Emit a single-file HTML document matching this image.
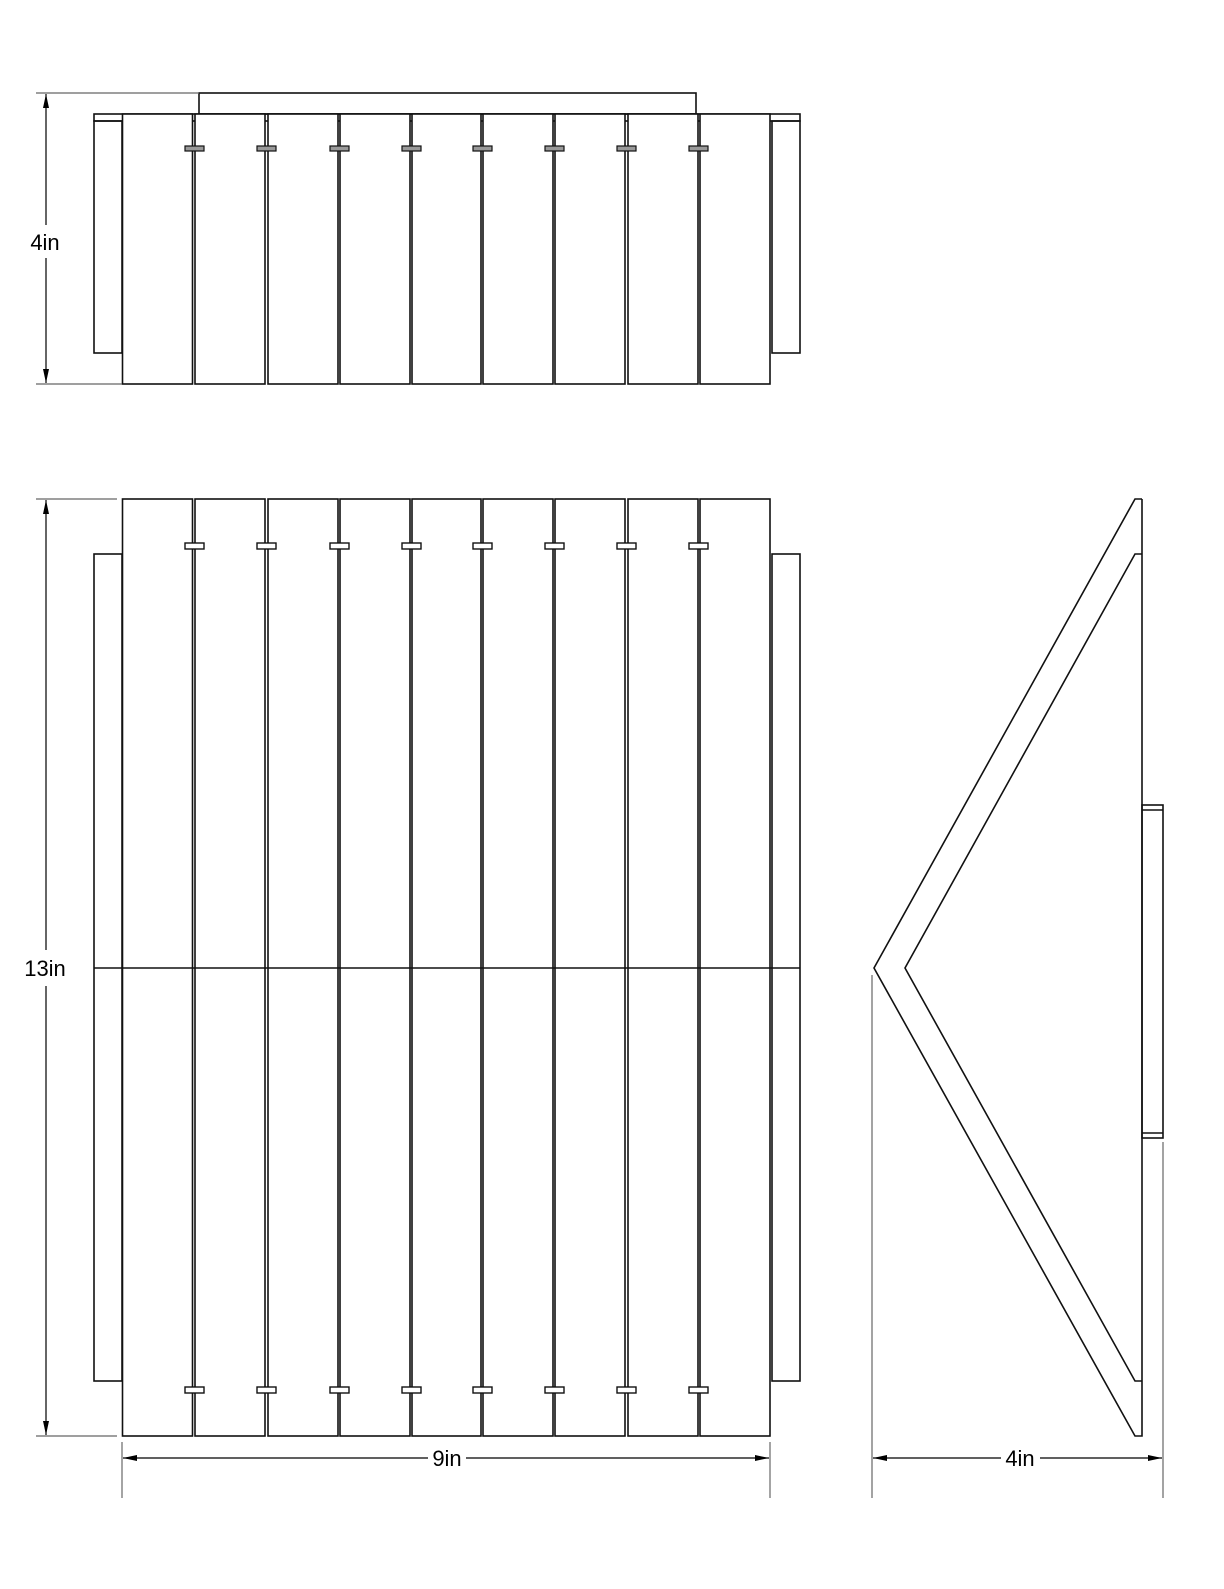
<!DOCTYPE html>
<html><head><style>html,body{margin:0;padding:0;background:#fff}</style></head>
<body>
<svg width="1224" height="1584" viewBox="0 0 1224 1584" xmlns="http://www.w3.org/2000/svg" font-family="Liberation Sans, sans-serif">
<defs>
<marker id="a" markerWidth="14" markerHeight="6" refX="14" refY="3" orient="auto" markerUnits="userSpaceOnUse"><path d="M0,0 L14,3 L0,6 z" fill="#000"/></marker>
</defs>
<g fill="none" stroke="#111" stroke-width="1.6">
<!-- TOP VIEW -->
<rect x="199" y="93" width="497" height="21"/>
<rect x="94" y="114" width="706" height="7"/>
<rect x="94" y="121" width="28" height="232"/>
<rect x="772" y="121" width="28" height="232"/>
<rect x="122.5" y="114" width="70" height="270" fill="#fff"/>
<rect x="195" y="114" width="70" height="270" fill="#fff"/>
<rect x="268" y="114" width="70" height="270" fill="#fff"/>
<rect x="340" y="114" width="70" height="270" fill="#fff"/>
<rect x="412" y="114" width="69" height="270" fill="#fff"/>
<rect x="483" y="114" width="70" height="270" fill="#fff"/>
<rect x="555" y="114" width="70" height="270" fill="#fff"/>
<rect x="628" y="114" width="70" height="270" fill="#fff"/>
<rect x="700" y="114" width="70" height="270" fill="#fff"/>
<g fill="#999" stroke-width="1.2">
<rect x="185" y="146" width="19" height="5"/><rect x="257" y="146" width="19" height="5"/><rect x="330" y="146" width="19" height="5"/><rect x="402" y="146" width="19" height="5"/><rect x="473" y="146" width="19" height="5"/><rect x="545" y="146" width="19" height="5"/><rect x="617" y="146" width="19" height="5"/><rect x="689" y="146" width="19" height="5"/>
</g>
<!-- FRONT VIEW -->
<rect x="94" y="554" width="28" height="827"/>
<rect x="772" y="554" width="28" height="827"/>
<rect x="122.5" y="499" width="70" height="937" fill="#fff"/>
<rect x="195" y="499" width="70" height="937" fill="#fff"/>
<rect x="268" y="499" width="70" height="937" fill="#fff"/>
<rect x="340" y="499" width="70" height="937" fill="#fff"/>
<rect x="412" y="499" width="69" height="937" fill="#fff"/>
<rect x="483" y="499" width="70" height="937" fill="#fff"/>
<rect x="555" y="499" width="70" height="937" fill="#fff"/>
<rect x="628" y="499" width="70" height="937" fill="#fff"/>
<rect x="700" y="499" width="70" height="937" fill="#fff"/>
<line x1="94" y1="968" x2="800" y2="968"/>
<g fill="#fff" stroke-width="1.4">
<rect x="185" y="543" width="19" height="6"/><rect x="257" y="543" width="19" height="6"/><rect x="330" y="543" width="19" height="6"/><rect x="402" y="543" width="19" height="6"/><rect x="473" y="543" width="19" height="6"/><rect x="545" y="543" width="19" height="6"/><rect x="617" y="543" width="19" height="6"/><rect x="689" y="543" width="19" height="6"/>
<rect x="185" y="1387" width="19" height="6"/><rect x="257" y="1387" width="19" height="6"/><rect x="330" y="1387" width="19" height="6"/><rect x="402" y="1387" width="19" height="6"/><rect x="473" y="1387" width="19" height="6"/><rect x="545" y="1387" width="19" height="6"/><rect x="617" y="1387" width="19" height="6"/><rect x="689" y="1387" width="19" height="6"/>
</g>
<!-- SIDE VIEW -->
<polyline points="1142,499 1135,499 874,968 1135,1436 1142,1436 1142,499"/>
<polyline points="1142,554 1135,554 905,968 1135,1381 1142,1381"/>
<rect x="1142" y="805" width="21" height="333"/>
<line x1="1142" y1="810" x2="1163" y2="810"/>
<line x1="1142" y1="1133" x2="1163" y2="1133"/>
</g>
<!-- DIMENSIONS -->
<g stroke="#666" stroke-width="1.2" fill="none">
<line x1="36" y1="93" x2="199" y2="93"/><line x1="36" y1="384" x2="122" y2="384"/>
<line x1="36" y1="499" x2="117" y2="499"/><line x1="36" y1="1436" x2="117" y2="1436"/>
<line x1="122" y1="1442" x2="122" y2="1498"/><line x1="770" y1="1442" x2="770" y2="1498"/>
<line x1="872" y1="975" x2="872" y2="1498"/><line x1="1163" y1="1142" x2="1163" y2="1498"/>
</g>
<g stroke="#000" stroke-width="1.2" fill="none">
<line x1="46" y1="225" x2="46" y2="94" marker-end="url(#a)"/>
<line x1="46" y1="258" x2="46" y2="383" marker-end="url(#a)"/>
<line x1="46" y1="950" x2="46" y2="500" marker-end="url(#a)"/>
<line x1="46" y1="986" x2="46" y2="1435" marker-end="url(#a)"/>
<line x1="428" y1="1458" x2="123" y2="1458" marker-end="url(#a)"/>
<line x1="466" y1="1458" x2="769" y2="1458" marker-end="url(#a)"/>
<line x1="1001" y1="1458" x2="873" y2="1458" marker-end="url(#a)"/>
<line x1="1040" y1="1458" x2="1162" y2="1458" marker-end="url(#a)"/>
</g>
<g font-size="22" fill="#000" text-anchor="middle">
<text x="45" y="250">4in</text>
<text x="45" y="976">13in</text>
<text x="447" y="1466">9in</text>
<text x="1020" y="1466">4in</text>
</g>
</svg>
</body></html>
